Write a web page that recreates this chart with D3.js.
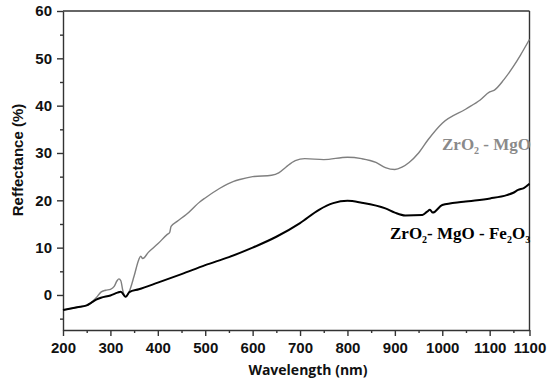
<!DOCTYPE html>
<html><head><meta charset="utf-8">
<script src="https://cdn.jsdelivr.net/npm/d3@7"></script>
<style>body{margin:0;background:#fff}svg{display:block}</style>
</head><body>
<svg id="chart" width="550" height="384"></svg>
<script>
// Data: wavelength (nm) and reflectance (%)
const grayWave = [200,230,250,262,270,280,290,300,308,314,318,322,326,332,340,350,360,364,368,380,400,420,425,428,440,460,489,500,530,560,573,600,640,655,670,690,710,750,800,830,860,880,900,915,930,950,970,1000,1050,1080,1100,1110,1130,1150,1165,1184];
const grayRefl = [-3.2,-2.6,-2.2,-1.4,-0.6,0.6,1.0,1.2,1.8,3.0,3.4,3.0,1.0,-0.4,0.8,4.0,7.5,8.2,7.7,9.0,10.8,12.8,13.2,14.5,15.5,17.0,19.7,20.5,22.5,24.0,24.4,25.0,25.3,25.8,27.0,28.4,28.8,28.6,29.1,28.8,28.0,26.9,26.5,27.0,28.0,30.0,32.8,36.3,39.3,41.2,42.9,43.3,45.5,48.3,50.7,54.0];
const blackWave = [200,230,250,260,270,280,300,315,322,332,340,360,400,450,500,550,600,650,700,740,770,800,830,880,900,922,958,968,974,980,1000,1045,1101,1136,1150,1160,1172,1184];
const blackRefl = [-3.2,-2.6,-2.2,-1.6,-1.0,-0.6,-0.1,0.5,0.7,-0.4,0.6,1.2,2.6,4.4,6.3,8.0,10.0,12.3,15.2,18.0,19.4,19.9,19.5,18.3,17.4,16.8,16.9,17.6,18.0,17.4,19.0,19.7,20.4,21.1,21.6,22.2,22.6,23.5];
const xTickValues = [200,300,400,500,600,700,800,900,1000,1100,1184];
const xTickLabels = ["200","300","400","500","600","700","800","900","1000","1100","1100"];
const xMinorValues = [250,350,450,550,650,750,850,950,1050,1150];
const yTickValues = [0,10,20,30,40,50,60];
const yMinorValues = [-5,5,15,25,35,45,55];
const seriesNames = ["ZrO2 - MgO","ZrO2- MgO - Fe2O3"];

const svg = d3.select("#chart");
const x = d3.scaleLinear().domain([200,1184]).range([63,529.5]);
const y = d3.scaleLinear().domain([-7.4,60]).range([330,11]);
const axisColor = "#333";

// frame (top and right)
svg.append("line").attr("x1",x(200)).attr("x2",x(1184)).attr("y1",y(60)).attr("y2",y(60)).attr("stroke",axisColor).attr("stroke-width",1.4);
svg.append("line").attr("x1",x(1184)).attr("x2",x(1184)).attr("y1",y(60)).attr("y2",y(-7.4)).attr("stroke",axisColor).attr("stroke-width",1.4);

const tickFont = "'Liberation Sans', Arial, sans-serif";

const xAxis = d3.axisBottom(x).tickValues(xTickValues).tickFormat((d,i)=>xTickLabels[i]).tickSize(6).tickPadding(6).tickSizeOuter(0);
const gx = svg.append("g").attr("transform",`translate(0,${y(-7.4)})`).call(xAxis);
const gxm = svg.append("g").attr("transform",`translate(0,${y(-7.4)})`).call(d3.axisBottom(x).tickValues(xMinorValues).tickSize(3).tickFormat("").tickSizeOuter(0));
gxm.select(".domain").remove();

const yAxis = d3.axisLeft(y).tickValues(yTickValues).tickSize(6).tickPadding(5).tickSizeOuter(0);
const gy = svg.append("g").attr("transform",`translate(${x(200)},0)`).call(yAxis);
const gym = svg.append("g").attr("transform",`translate(${x(200)},0)`).call(d3.axisLeft(y).tickValues(yMinorValues).tickSize(3).tickFormat("").tickSizeOuter(0));
gym.select(".domain").remove();

[gx,gy,gxm,gym].forEach(g=>{
  g.selectAll("path,line").attr("stroke",axisColor).attr("stroke-width",1.4);
  g.selectAll("text").attr("fill","#111").attr("font-family",tickFont).attr("font-weight","bold").attr("font-size",15);
});

// lines
const grayData = grayWave.map((w,i)=>[w,grayRefl[i]]);
const blackData = blackWave.map((w,i)=>[w,blackRefl[i]]);
const line = d3.line().x(d=>x(d[0])).y(d=>y(d[1])).curve(d3.curveMonotoneX);
svg.append("path").datum(grayData).attr("d",line).attr("fill","none").attr("stroke","#7f7f7f").attr("stroke-width",1.4);
svg.append("path").datum(blackData).attr("d",line).attr("fill","none").attr("stroke","#000").attr("stroke-width",2);

// axis titles
svg.append("text").attr("x",308).attr("y",375).attr("text-anchor","middle")
  .attr("font-family","'Open Sans', sans-serif").attr("font-weight","bold").attr("font-size",14).attr("fill","#111")
  .text("Wavelength (nm)");
svg.append("text").attr("transform","translate(23,160) rotate(-90)").attr("text-anchor","middle")
  .attr("font-family",tickFont).attr("font-weight","bold").attr("font-size",15).attr("fill","#111")
  .text("Reffectance (%)");

// series labels with subscripts
function chemLabel(parts, xx, yy, color){
  const t = svg.append("text").attr("x",xx).attr("y",yy)
    .attr("font-family","'Liberation Serif', 'Times New Roman', serif").attr("font-weight","bold")
    .attr("font-size",17).attr("fill",color);
  parts.forEach(p=>{
    const ts = t.append("tspan").text(p.t);
    if(p.sub){ ts.attr("font-size",10).attr("dy",4); }
    else if(p.after){ ts.attr("dy",-4); }
  });
}
chemLabel([{t:"ZrO"},{t:"2",sub:true},{t:" - MgO",after:true}], 442, 150, "#8a8a8a");
chemLabel([{t:"ZrO"},{t:"2",sub:true},{t:"- MgO - Fe",after:true},{t:"2",sub:true},{t:"O",after:true},{t:"3",sub:true}], 390, 239, "#000");
</script>
</body></html>
